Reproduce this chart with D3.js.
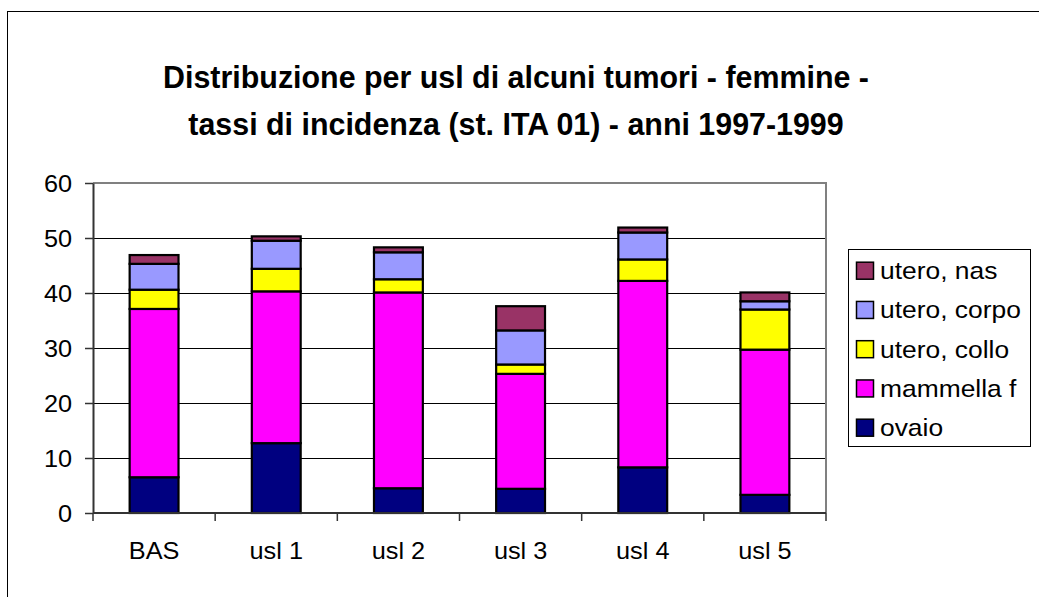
<!DOCTYPE html>
<html>
<head>
<meta charset="utf-8">
<script src="https://cdn.jsdelivr.net/npm/d3@7"></script>
<style>
  body { margin: 0; background: #fff; }
  text { font-family: "Liberation Sans", Arial, sans-serif; fill: #000; }
</style>
</head>
<body>
<div id="chart"></div>
<script>
// data
const categories = ["BAS", "usl 1", "usl 2", "usl 3", "usl 4", "usl 5"];
const ovaio    = [6.5, 12.7, 4.5, 4.4, 8.3, 3.3];
const mammella = [30.6, 27.6, 35.6, 20.9, 33.9, 26.4];
const collo    = [3.5, 4.1, 2.4, 1.7, 3.9, 7.3];
const corpo    = [4.7, 5.1, 4.9, 6.2, 4.9, 1.5];
const nas      = [1.6, 0.8, 0.9, 4.4, 0.9, 1.6];
const seriesNames = ["ovaio", "mammella f", "utero, collo", "utero, corpo", "utero, nas"];
const seriesColors = ["#000080", "#ff00ff", "#ffff00", "#9999ff", "#993366"];
const yTicks = [0, 10, 20, 30, 40, 50, 60];
const titleLines = [
  "Distribuzione per usl di alcuni tumori - femmine -",
  "tassi di incidenza (st. ITA 01) - anni 1997-1999"
];

const W = 1039, H = 597;
const plot = { left: 93, right: 826, top: 183, bottom: 513 };
const sx = 1.1; // text in the reference is a bit wider than tall

const svg = d3.select("#chart").append("svg")
    .attr("width", W)
    .attr("height", H);

// outer frame (runs off the right / bottom edge)
svg.append("rect")
    .attr("x", 7.5).attr("y", 11.5)
    .attr("width", W + 10).attr("height", H + 10)
    .attr("fill", "none").attr("stroke", "#000").attr("stroke-width", 1);

// title
svg.selectAll(".title")
    .data(titleLines)
    .enter().append("text")
    .attr("class", "title")
    .attr("transform", (d, i) => "translate(516," + (88 + i * 47) + ") scale(0.95,1)")
    .attr("text-anchor", "middle")
    .style("font-size", "32px")
    .style("font-weight", "bold")
    .text(d => d);

// table for stacking
const table = categories.map((c, i) => ({
  cat: c,
  "ovaio": ovaio[i],
  "mammella f": mammella[i],
  "utero, collo": collo[i],
  "utero, corpo": corpo[i],
  "utero, nas": nas[i]
}));
const stacked = d3.stack().keys(seriesNames)(table);

const x = d3.scaleBand()
    .domain(categories)
    .range([plot.left, plot.right])
    .padding(0);

const y = d3.scaleLinear()
    .domain([0, 60])
    .range([plot.bottom, plot.top]);

const color = d3.scaleOrdinal().domain(seriesNames).range(seriesColors);

// gridlines
svg.append("g")
    .selectAll("line")
    .data(yTicks.filter(t => t > 0 && t < 60))
    .enter().append("line")
    .attr("x1", plot.left).attr("x2", plot.right)
    .attr("y1", d => y(d) + 0.5).attr("y2", d => y(d) + 0.5)
    .attr("stroke", "#000").attr("stroke-width", 1);

// plot area border top / right (gray)
svg.append("path")
    .attr("d", "M" + plot.left + "," + (plot.top) + "H" + plot.right + "V" + plot.bottom)
    .attr("fill", "none").attr("stroke", "#808080").attr("stroke-width", 2);

// bars
const barW = x.bandwidth() * 0.4;
svg.append("g")
    .selectAll("g")
    .data(stacked)
    .enter().append("g")
    .attr("fill", d => color(d.key))
    .selectAll("rect")
    .data(d => d)
    .enter().append("rect")
    .attr("x", d => x(d.data.cat) + (x.bandwidth() - barW) / 2)
    .attr("width", barW)
    .attr("y", d => y(d[1]))
    .attr("height", d => y(d[0]) - y(d[1]))
    .attr("stroke", "#000")
    .attr("stroke-width", 2.2);

// y axis
const yAxis = svg.append("g")
    .attr("transform", "translate(" + plot.left + ",0)")
    .call(d3.axisLeft(y).tickValues(yTicks).tickSize(8).tickSizeOuter(0));
yAxis.select(".domain").attr("stroke", "#333").attr("stroke-width", 2);
yAxis.selectAll(".tick line").attr("stroke", "#333").attr("stroke-width", 1.5);
yAxis.selectAll(".tick text")
    .attr("x", 0).attr("dy", 0)
    .attr("transform", "translate(-21,8) scale(" + sx + ",1)")
    .style("font-size", "23px")
    .style("font-family", "'Liberation Sans', Arial, sans-serif")
    .attr("fill", "#000");

// x axis: ticks on category boundaries
const xAxisG = svg.append("g");
xAxisG.append("line")
    .attr("x1", plot.left).attr("x2", plot.right)
    .attr("y1", plot.bottom).attr("y2", plot.bottom)
    .attr("stroke", "#333").attr("stroke-width", 2);
const bounds = categories.map(c => x(c)).concat([x(categories[categories.length - 1]) + x.bandwidth()]);
xAxisG.selectAll(".xt")
    .data(bounds)
    .enter().append("line")
    .attr("class", "xt")
    .attr("x1", d => d).attr("x2", d => d)
    .attr("y1", plot.bottom).attr("y2", plot.bottom + 8)
    .attr("stroke", "#333").attr("stroke-width", 1.5);
xAxisG.selectAll(".xl")
    .data(categories)
    .enter().append("text")
    .attr("class", "xl")
    .attr("transform", d => "translate(" + (x(d) + x.bandwidth() / 2) + ",559) scale(" + sx + ",1)")
    .attr("text-anchor", "middle")
    .style("font-size", "23px")
    .text(d => d);

// legend
const legend = svg.append("g").attr("transform", "translate(848,249)");
legend.append("rect")
    .attr("x", 0.5).attr("y", 0.5)
    .attr("width", 182).attr("height", 197)
    .attr("fill", "#fff").attr("stroke", "#000").attr("stroke-width", 1);

const legendOrder = seriesNames.slice().reverse();
const item = legend.selectAll(".item")
    .data(legendOrder)
    .enter().append("g")
    .attr("class", "item")
    .attr("transform", (d, i) => "translate(0," + (21.7 + i * 39.25) + ")");
item.append("rect")
    .attr("x", 8.5).attr("y", -8.5)
    .attr("width", 17).attr("height", 17)
    .attr("fill", d => color(d))
    .attr("stroke", "#000").attr("stroke-width", 1.5);
item.append("text")
    .attr("transform", "translate(32,8.5) scale(" + sx + ",1)")
    .style("font-size", "24px")
    .text(d => d);
</script>
</body>
</html>
